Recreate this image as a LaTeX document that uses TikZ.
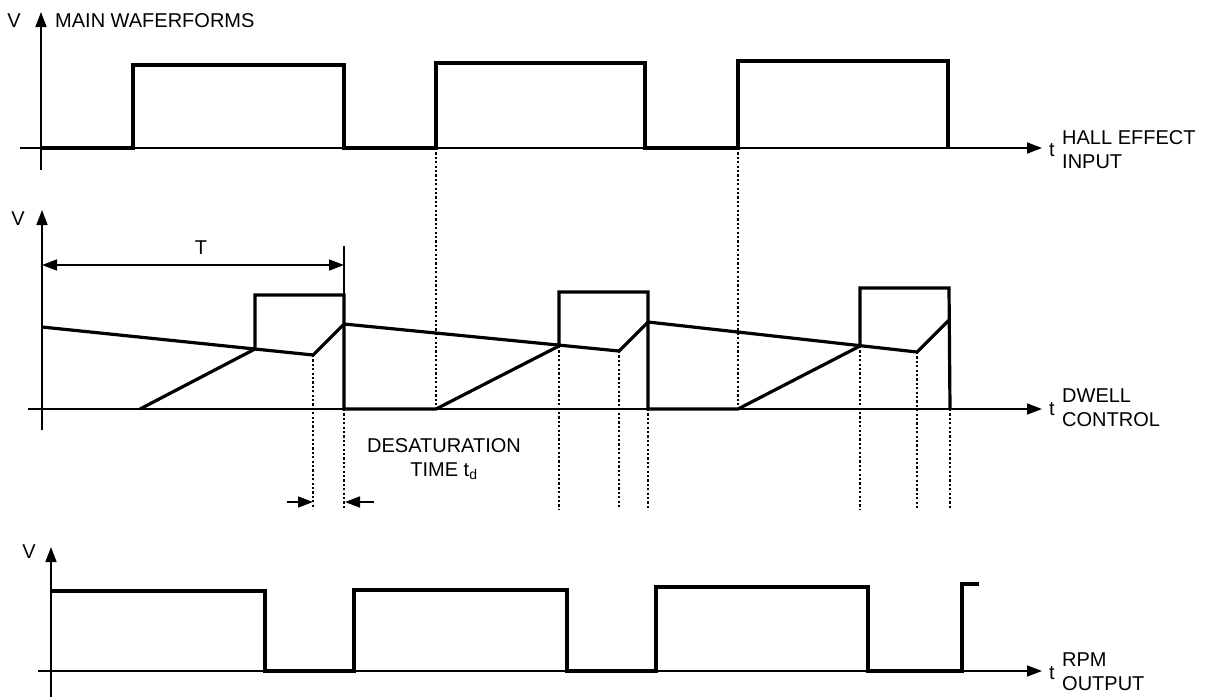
\documentclass[tikz,border=0pt]{standalone}
\usepackage{fontspec}
\setmainfont{Liberation Sans}
\usetikzlibrary{arrows.meta}
\begin{document}
\begin{tikzpicture}[x=1pt,y=-1pt,
  tip/.tip={Triangle[length=15pt,width=11pt]},
  axis/.style={line width=1.6pt,-tip},
  wave/.style={line width=3.2pt,line join=miter},
  guide/.style={line width=1.5pt,dash pattern=on 2.2pt off 2.2pt},
  thin/.style={line width=1.6pt},
  dimarrow/.style={line width=1.6pt,tip-tip},
  onearrow/.style={line width=1.6pt,-tip},
  lbl/.style={font=\fontsize{20}{24}\selectfont,inner sep=0pt,align=left}]
\useasboundingbox (0,0) rectangle (1207,697);

% ---------- top panel ----------
\coordinate (A1b) at (41,170);
\coordinate (A1t) at (41,12);
\coordinate (H1l) at (20,148);
\coordinate (H1r) at (1042,148);
\draw[axis] (A1b) -- (A1t);
\draw[axis] (H1l) -- (H1r);
\node[lbl] (v1) at (14,21) {V};
\node[lbl,anchor=west] (title) at (55,21) {MAIN WAFERFORMS};
\node[lbl] (t1) at (1052,150) {t};
\node[lbl,anchor=west] (hall) at (1062,150) {HALL EFFECT\\INPUT};
\draw[wave] (41,148) -- (133,148) -- (133,65) -- (344,65) -- (344,148)
  -- (436,148) -- (436,63) -- (645,63) -- (645,148) -- (738,148)
  -- (738,61) -- (948,61) -- (948,148);
\draw[guide] (436,148) -- (436,409);
\draw[guide] (738,148) -- (738,409);

% ---------- middle panel ----------
\coordinate (A2b) at (42,430);
\coordinate (A2t) at (42,210);
\coordinate (H2l) at (28,409);
\coordinate (H2r) at (1042,409);
\draw[axis] (A2b) -- (A2t);
\draw[axis] (H2l) -- (H2r);
\node[lbl] (v2) at (18,219) {V};
\node[lbl] (t2) at (1052,409) {t};
\node[lbl,anchor=west] (dwell) at (1062,408) {DWELL\\CONTROL};
\coordinate (Tl) at (42,265);
\coordinate (Tr) at (344,265);
\draw[dimarrow] (Tl) -- (Tr);
\draw[thin] (344,246) -- (344,295);
\node[lbl] (Tlab) at (201,248) {T};

\draw[wave] (42,327) -- (313,355) -- (344,324) -- (619,351) -- (648,322)
  -- (917,352) -- (949,320);
\draw[wave] (140,409) -- (255,349) -- (255,295) -- (344,295) -- (344,409) -- (436,409)
  -- (559,346) -- (559,292) -- (648,292) -- (648,409) -- (738,409)
  -- (860,346) -- (860,288) -- (949,288) -- (950,409);

\foreach \x/\y in {313/355,344/409,559/346,619/351,648/409,860/346,917/352,950/409}
  \draw[guide] (\x,\y) -- (\x,509);

\coordinate (dl) at (287,502);
\coordinate (dlt) at (313,502);
\coordinate (dr) at (374,502);
\coordinate (drt) at (345,502);
\draw[onearrow] (dl) -- (dlt);
\draw[onearrow] (dr) -- (drt);
\node[lbl,align=center] (desat) at (444,459) {DESATURATION\\TIME t\textsubscript{d}};

% ---------- bottom panel ----------
\coordinate (A3b) at (51,697);
\coordinate (A3t) at (51,547);
\coordinate (H3l) at (38,671);
\coordinate (H3r) at (1042,671);
\draw[axis] (A3b) -- (A3t);
\draw[axis] (H3l) -- (H3r);
\node[lbl] (v3) at (29,552) {V};
\node[lbl] (t3) at (1052,673) {t};
\node[lbl,anchor=west] (rpm) at (1062,672) {RPM\\OUTPUT};
\draw[wave] (51,591) -- (265,591) -- (265,671) -- (354,671) -- (354,590)
  -- (567,590) -- (567,671) -- (656,671) -- (656,587) -- (868,587)
  -- (868,671) -- (962,671) -- (962,584) -- (979,584);
\end{tikzpicture}
\end{document}
